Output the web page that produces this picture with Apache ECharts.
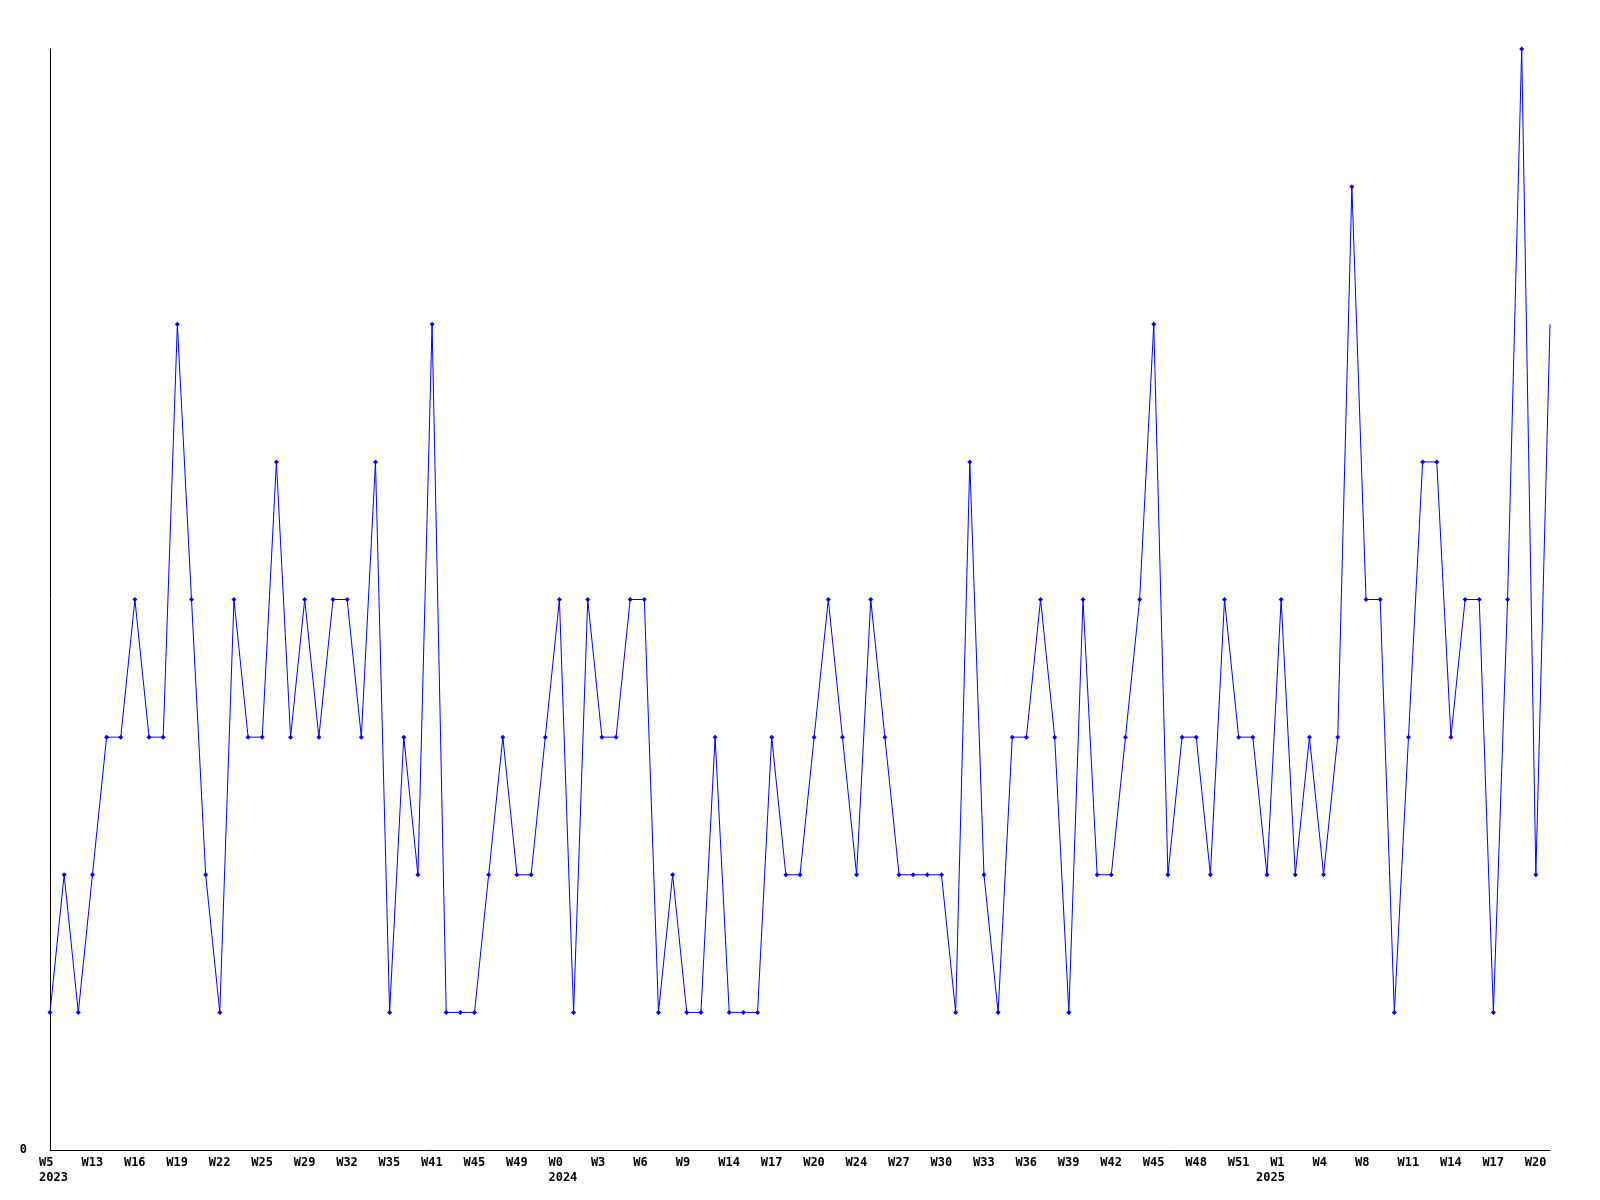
<!DOCTYPE html>
<html>
<head>
<meta charset="utf-8">
<script src="https://cdn.jsdelivr.net/npm/echarts@6/dist/echarts.min.js"></script>
<style>html,body{margin:0;padding:0;background:#fff;}#chart{width:1600px;height:1200px;}</style>
</head>
<body>
<div id="chart"></div>
<script>
const weeks = [
  'W5','W8','W11','W13','W14','W15','W16','W17','W18','W19','W20','W21','W22','W23','W24','W25','W27','W28','W29','W30','W31','W32','W33','W34','W35','W37','W39','W41','W42','W44','W45','W46','W48','W49','W50','W51',
  'W0','W1','W2','W3','W4','W5','W6','W7','W8','W9','W11','W12','W14','W15','W16','W17','W18','W19','W20','W22','W23','W24','W25','W26','W27','W28','W29','W30','W31','W32','W33','W34','W35','W36','W37','W38','W39','W40','W41','W42','W43','W44','W45','W46','W47','W48','W49','W50','W51','W52',
  'W0','W1','W2','W3','W4','W5','W7','W8','W9','W10','W11','W12','W13','W14','W15','W16','W17','W18','W19','W20','W21'
];
const yearStartIdx = [0, 36, 86];
const yearNames = ['2023', '2024', '2025'];
const values = [
  1,2,1,2,3,3,4,3,3,6,4,2,1,4,3,3,5,3,4,3,4,4,3,5,1,3,2,6,1,1,1,2,3,2,2,3,
  4,1,4,3,3,4,4,1,2,1,1,3,1,1,1,3,2,2,3,4,3,2,4,3,2,2,2,2,1,5,2,1,3,3,4,3,1,4,2,2,3,4,6,2,3,3,2,4,3,3,
  2,4,2,3,2,3,7,4,4,1,3,5,5,3,4,4,1,4,8,2,6
];
const yTickLabels = ['0'];

const chart = echarts.init(document.getElementById('chart'), null, {renderer: 'canvas'});
const font = '"DejaVu Sans Mono", monospace';
const richBox = {t: {width: 22, align: 'left', fontFamily: font, fontWeight: 'bold', fontSize: 12, color: '#000'}};
chart.setOption({
  backgroundColor: '#ffffff',
  animation: false,
  grid: {left: 50, right: 50, top: 49, bottom: 50, containLabel: false},
  xAxis: [{
    type: 'category',
    data: weeks,
    boundaryGap: false,
    axisLine: {show: true, lineStyle: {color: '#000', width: 1}},
    axisTick: {show: false},
    splitLine: {show: false},
    axisLabel: {
      interval: function (i) { return i % 3 === 0; },
      margin: 7,
      formatter: function (v) { return '{t|' + v + '}'; },
      rich: richBox
    }
  }, {
    type: 'category',
    data: weeks,
    boundaryGap: false,
    position: 'bottom',
    axisLine: {show: false},
    axisTick: {show: false},
    splitLine: {show: false},
    axisLabel: {
      interval: function (i) { return yearStartIdx.indexOf(i) >= 0; },
      margin: 22,
      formatter: function (v, i) {
        const k = yearStartIdx.indexOf(i);
        return k >= 0 ? '{t|' + yearNames[k] + '}' : '';
      },
      rich: richBox
    }
  }],
  yAxis: {
    type: 'value',
    min: 0,
    max: 8,
    interval: 8,
    axisLine: {show: true, lineStyle: {color: '#000', width: 1}},
    axisTick: {show: false},
    splitLine: {show: false},
    axisLabel: {
      margin: 23,
      color: '#000',
      fontFamily: font,
      fontWeight: 'bold',
      fontSize: 12,
      formatter: function (v) { return yTickLabels.indexOf(String(v)) >= 0 ? String(v) : ''; }
    }
  },
  series: [{
    type: 'line',
    xAxisIndex: 0,
    data: values.map(function (v, i) {
      return i === values.length - 1 ? {value: v, symbolSize: 0} : v;
    }),
    symbol: 'diamond',
    symbolSize: 5,
    showAllSymbol: true,
    lineStyle: {color: '#0000ff', width: 1},
    itemStyle: {color: '#0000ff'},
    clip: false
  }]
});
</script>
</body>
</html>
